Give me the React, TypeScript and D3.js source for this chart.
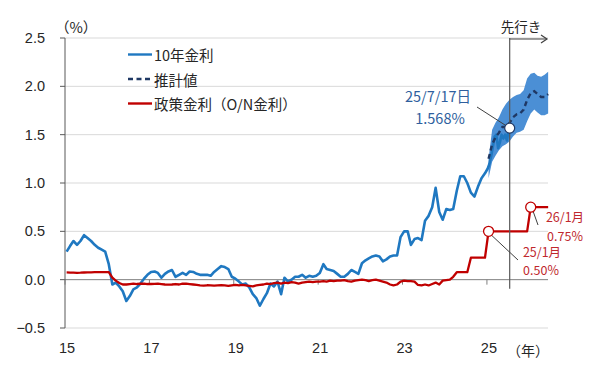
import React from "react";
import * as d3 from "d3";

// ---- data ----
// 10-year JGB yield, monthly averages Jan 2015 .. Dec 2024 (%)
const jgbYears = [2015, 2016, 2017, 2018, 2019, 2020, 2021, 2022, 2023, 2024];
const jgb10yMonthly = [
  // 2015
  0.29, 0.35, 0.40, 0.36, 0.40, 0.46, 0.43, 0.40, 0.36, 0.33, 0.31, 0.29,
  // 2016
  0.16, -0.05, -0.03, -0.07, -0.12, -0.22, -0.17, -0.10, -0.08, -0.04, 0.01, 0.05,
  // 2017
  0.08, 0.085, 0.07, 0.02, 0.06, 0.085, 0.10, 0.03, 0.05, 0.07, 0.05, 0.085,
  // 2018
  0.08, 0.06, 0.05, 0.05, 0.05, 0.04, 0.08, 0.11, 0.14, 0.13, 0.11, 0.03,
  // 2019
  0.01, -0.02, -0.05, -0.04, -0.08, -0.15, -0.19, -0.27, -0.20, -0.14, -0.04, -0.07,
  // 2020
  -0.02, -0.15, 0.02, -0.02, 0.0, 0.03, 0.03, 0.05, 0.02, 0.04, 0.03, 0.04,
  // 2021
  0.07, 0.16, 0.11, 0.10, 0.09, 0.06, 0.03, 0.03, 0.06, 0.10, 0.08, 0.06,
  // 2022
  0.17, 0.20, 0.22, 0.24, 0.25, 0.24, 0.19, 0.21, 0.24, 0.25, 0.25, 0.44,
  // 2023
  0.50, 0.50, 0.36, 0.42, 0.43, 0.41, 0.61, 0.66, 0.75, 0.95, 0.70, 0.62,
  // 2024
  0.73, 0.72, 0.73, 0.92, 1.07, 1.07, 1.0, 0.90, 0.86, 0.96, 1.05, 1.10,
];
// 10-year JGB yield, 2025 (semi-monthly) up to 25/7/17
const jgb10y2025Dates = [
  "2025-01-08", "2025-01-23", "2025-02-07", "2025-02-22", "2025-03-08", "2025-03-23",
  "2025-04-08", "2025-04-23", "2025-05-08", "2025-05-23", "2025-06-08", "2025-06-23",
  "2025-07-08", "2025-07-17",
];
const jgb10y2025 = [1.15, 1.2, 1.28, 1.38, 1.48, 1.5, 1.36, 1.42, 1.5, 1.46, 1.5, 1.44, 1.55, 1.568];

// Policy rate (O/N), monthly Jan 2015 .. Jun 2026 (%)
const policyRateMonthly = [
  // 2015
  0.075, 0.073, 0.072, 0.071, 0.072, 0.074, 0.075, 0.076, 0.077, 0.077, 0.078, 0.078,
  // 2016
  0.078, 0.02, -0.01, -0.035, -0.05, -0.05, -0.045, -0.04, -0.045, -0.042, -0.04, -0.045,
  // 2017
  -0.045, -0.043, -0.04, -0.045, -0.05, -0.052, -0.05, -0.045, -0.05, -0.042, -0.04, -0.045,
  // 2018
  -0.05, -0.055, -0.06, -0.062, -0.058, -0.06, -0.062, -0.06, -0.058, -0.06, -0.065, -0.06,
  // 2019
  -0.055, -0.06, -0.055, -0.06, -0.065, -0.07, -0.06, -0.055, -0.05, -0.04, -0.045, -0.035,
  // 2020
  -0.03, -0.04, -0.03, -0.035, -0.025, -0.03, -0.04, -0.03, -0.025, -0.02, -0.025, -0.02,
  // 2021
  -0.02, -0.015, -0.02, -0.01, -0.015, -0.01, -0.01, -0.005, -0.015, -0.02, -0.01, -0.005,
  // 2022
  0.0, -0.005, -0.015, -0.005, 0.0, -0.01, -0.02, -0.03, -0.05, -0.06, -0.05, -0.02,
  // 2023
  -0.01, -0.015, -0.015, -0.02, -0.055, -0.06, -0.05, -0.06, -0.045, -0.03, -0.05, -0.01,
  // 2024
  -0.005, 0.0, 0.03, 0.077, 0.077, 0.077, 0.077, 0.227, 0.227, 0.227, 0.227, 0.227,
  // 2025
  0.5, 0.5, 0.5, 0.5, 0.5, 0.5, 0.5, 0.5, 0.5, 0.5, 0.5, 0.5,
  // 2026
  0.75, 0.75, 0.75, 0.75, 0.75, 0.75,
];

// Estimate (推計値) with band, monthly Jan 2025 .. Jun 2026
const forecastMonths = [
  "2025-01", "2025-02", "2025-03", "2025-04", "2025-05", "2025-06", "2025-07", "2025-08", "2025-09",
  "2025-10", "2025-11", "2025-12", "2026-01", "2026-02", "2026-03", "2026-04", "2026-05", "2026-06",
];
const forecastMid = [1.25, 1.4, 1.47, 1.52, 1.58, 1.58, 1.62, 1.68, 1.71, 1.72, 1.76, 1.86, 1.93, 1.95, 1.92, 1.89, 1.89, 1.92];
const forecastHigh = [1.25, 1.55, 1.62, 1.68, 1.76, 1.82, 1.86, 1.89, 1.91, 1.92, 1.96, 2.08, 2.13, 2.14, 2.11, 2.1, 2.12, 2.15];
const forecastLow = [1.05, 1.22, 1.28, 1.34, 1.38, 1.4, 1.43, 1.48, 1.52, 1.53, 1.55, 1.64, 1.72, 1.76, 1.73, 1.7, 1.7, 1.72];

const yTicks = [-0.5, 0, 0.5, 1.0, 1.5, 2.0, 2.5];
const xTickYears = [2015, 2017, 2019, 2021, 2023, 2025];
const xTickLabels = ["15", "17", "19", "21", "23", "25"];

const legendLabels = ["10年金利", "推計値", "政策金利（O/N金利）"];

// ---- styles ----
const BLUE = "#1f78c1";
const BAND = "#4b8fd5";
const NAVY = "#1f3864";
const RED = "#c00000";
const ANN_BLUE = "#2f5f9e";
const ANN_RED = "#c0282d";
const CJK = "'Noto Sans CJK JP', 'Noto Sans', sans-serif";
const NUM = "'Liberation Sans', Arial, sans-serif";

const parseDay = d3.timeParse("%Y-%m-%d");
const parseMonth = (s: string) => {
  const [y, m] = s.split("-").map(Number);
  return new Date(y, m - 1, 15);
};

export default function App() {
  const W = 600;
  const H = 380;
  const x = d3
    .scaleTime()
    .domain([new Date(2015, 0, 1), new Date(2026, 6, 1)])
    .range([65, 550]);
  const y = d3.scaleLinear().domain([-0.5, 2.5]).range([328, 38]);

  const jgbPts: [Date, number][] = [];
  jgb10yMonthly.forEach((v, i) => {
    const yr = jgbYears[0] + Math.floor(i / 12);
    jgbPts.push([new Date(yr, i % 12, 15), v]);
  });
  jgb10y2025Dates.forEach((d, i) => jgbPts.push([parseDay(d)!, jgb10y2025[i]]));

  const polPts: [Date, number][] = policyRateMonthly.map((v, i) => [
    new Date(2015 + Math.floor(i / 12), i % 12, 15),
    v,
  ]);

  const fc = forecastMonths.map((m, i) => ({
    d: parseMonth(m),
    mid: forecastMid[i],
    lo: forecastLow[i],
    hi: forecastHigh[i],
  }));

  const line = d3
    .line<[Date, number]>()
    .x((p) => x(p[0]))
    .y((p) => y(p[1]));
  const area = d3
    .area<{ d: Date; lo: number; hi: number }>()
    .x((p) => x(p.d))
    .y0((p) => y(p.lo))
    .y1((p) => y(p.hi));
  const midLine = d3
    .line<{ d: Date; mid: number }>()
    .x((p) => x(p.d))
    .y((p) => y(p.mid));

  const x0 = x.range()[0];
  const x1 = 548;
  const lastJgb = jgbPts[jgbPts.length - 1];
  const cutX = x(lastJgb[0]);
  const lastY = y(lastJgb[1]);

  const jan25Idx = 10 * 12;
  const jan26Idx = 11 * 12;
  const p25 = polPts[jan25Idx];
  const p26 = polPts[jan26Idx];

  return (
    <svg
      width={W}
      height={H}
      style={{ position: "absolute", left: 0, top: 0, background: "#fff" }}
    >
      <rect x={0} y={0} width={W} height={H} fill="#fff" />
      {/* gridlines */}
      {yTicks.map((t) => (
        <line
          key={"g" + t}
          x1={x0}
          x2={x1}
          y1={y(t)}
          y2={y(t)}
          stroke={t === 0 ? "#7f7f7f" : "#d9d9d9"}
          strokeWidth={1}
        />
      ))}
      {/* y axis */}
      <line x1={x0} x2={x0} y1={y(2.5)} y2={y(-0.5)} stroke="#595959" strokeWidth={1} />
      {yTicks.map((t) => (
        <g key={"yt" + t}>
          <line x1={x0 - 5} x2={x0} y1={y(t)} y2={y(t)} stroke="#595959" />
          <text
            x={45}
            y={y(t)}
            textAnchor="end"
            dominantBaseline="central"
            fontFamily={NUM}
            fontSize={14.5}
            fill="#262626"
          >
            {t === -0.5 ? "−0.5" : t.toFixed(1)}
          </text>
        </g>
      ))}
      <text x={55} y={33} fontFamily={CJK} fontSize={14.5} fill="#262626">
        （%）
      </text>
      {/* x ticks on zero line */}
      {xTickYears.map((yr) => (
        <line
          key={"xt" + yr}
          x1={x(new Date(yr, 0, 1))}
          x2={x(new Date(yr, 0, 1))}
          y1={y(0)}
          y2={y(0) + 5}
          stroke="#7f7f7f"
        />
      ))}
      {xTickYears.map((yr, i) => (
        <text
          key={"xl" + yr}
          x={x(new Date(yr, 0, 1)) + 2}
          y={348}
          textAnchor="middle"
          dominantBaseline="central"
          fontFamily={NUM}
          fontSize={14.5}
          fill="#262626"
        >
          {xTickLabels[i]}
        </text>
      ))}
      <text x={528} y={350} textAnchor="middle" dominantBaseline="central" fontFamily={CJK} fontSize={14} fill="#262626">
        （年）
      </text>

      {/* forecast band */}
      <path d={area(fc) || ""} fill={BAND} stroke="none" />
      {/* 10y line */}
      <path d={line(jgbPts) || ""} fill="none" stroke={BLUE} strokeWidth={2.6} strokeLinejoin="round" />
      {/* estimate dashed */}
      <path d={midLine(fc) || ""} fill="none" stroke={NAVY} strokeWidth={2.4} strokeDasharray="5 3.5" />
      {/* policy rate */}
      <path d={line(polPts) || ""} fill="none" stroke={RED} strokeWidth={2.3} strokeLinejoin="round" />

      {/* forecast boundary */}
      <line x1={cutX} x2={cutX} y1={y(2.5)} y2={y(0) + 9} stroke="#595959" strokeWidth={1.2} />
      <line x1={cutX} x2={547} y1={39} y2={39} stroke="#404040" strokeWidth={1.2} />
      <path d={`M${541},${35} L${547},${39} L${541},${43}`} fill="none" stroke="#404040" strokeWidth={1.2} />
      <text x={521} y={32} textAnchor="middle" fontFamily={CJK} fontSize={13.5} fill="#262626">
        先行き
      </text>

      {/* 10y annotation */}
      <line x1={477} y1={107} x2={cutX - 3} y2={lastY - 2} stroke="#404040" strokeWidth={1} />
      <circle cx={cutX} cy={lastY} r={5} fill="#fff" stroke={NAVY} strokeWidth={1.2} />
      <text x={438} y={102} textAnchor="middle" fontFamily={CJK} fontSize={14.5} fill={ANN_BLUE}>
        25/7/17日
      </text>
      <text x={440} y={124} textAnchor="middle" fontFamily={CJK} fontSize={14.5} fill={ANN_BLUE}>
        1.568%
      </text>

      {/* policy rate annotations */}
      <line x1={x(p25[0]) + 2} y1={y(p25[1]) + 3} x2={518} y2={260} stroke="#404040" strokeWidth={1} />
      <circle cx={x(p25[0])} cy={y(p25[1])} r={5} fill="#fff" stroke={RED} strokeWidth={1.3} />
      <line x1={x(p26[0]) + 2} y1={y(p26[1]) + 3} x2={538} y2={225} stroke="#404040" strokeWidth={1} />
      <circle cx={x(p26[0])} cy={y(p26[1])} r={5} fill="#fff" stroke={RED} strokeWidth={1.3} />
      <text x={565} y={222} textAnchor="middle" fontFamily={CJK} fontSize={12.5} fill={ANN_RED}>
        26/1月
      </text>
      <text x={565} y={240.5} textAnchor="middle" fontFamily={CJK} fontSize={12.5} fill={ANN_RED}>
        0.75%
      </text>
      <text x={542} y={256.5} textAnchor="middle" fontFamily={CJK} fontSize={12.5} fill={ANN_RED}>
        25/1月
      </text>
      <text x={541} y={275} textAnchor="middle" fontFamily={CJK} fontSize={12.5} fill={ANN_RED}>
        0.50%
      </text>

      {/* legend */}
      {legendLabels.map((lab, i) => {
        const ly = 54.5 + i * 24.5;
        const stroke = i === 0 ? BLUE : i === 1 ? NAVY : RED;
        return (
          <g key={lab}>
            <line
              x1={128}
              x2={152}
              y1={ly}
              y2={ly}
              stroke={stroke}
              strokeWidth={2.4}
              strokeDasharray={i === 1 ? "5 3.5" : undefined}
            />
            <text x={154} y={ly} dominantBaseline="central" fontFamily={CJK} fontSize={14.5} fill="#262626">
              {lab}
            </text>
          </g>
        );
      })}
    </svg>
  );
}
